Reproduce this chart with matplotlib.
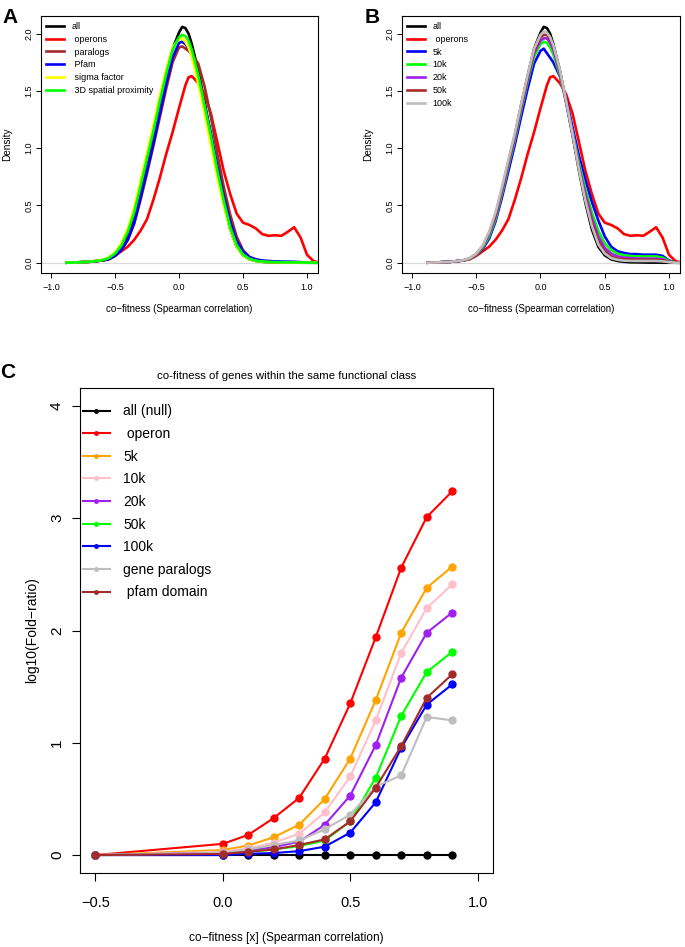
import matplotlib
matplotlib.use("Agg")
import matplotlib.pyplot as plt

plt.rcParams['font.family'] = ['Liberation Sans', 'DejaVu Sans']

# density curves (panels A and B)
xd = [-0.88, -0.8, -0.7, -0.6, -0.55, -0.5, -0.45, -0.4, -0.35, -0.3,
      -0.25, -0.2, -0.15, -0.1, -0.05, 0.0, 0.025, 0.05, 0.075, 0.1,
      0.15, 0.2, 0.25, 0.3, 0.35, 0.4, 0.45, 0.5, 0.55, 0.6,
      0.65, 0.7, 0.75, 0.8, 0.85, 0.9, 0.95, 1.0, 1.05, 1.1]

d_all = [0, 0.003, 0.008, 0.02, 0.035, 0.07, 0.13, 0.24, 0.40, 0.63,
         0.88, 1.11, 1.38, 1.63, 1.87, 2.01, 2.06, 2.05, 2.0, 1.91,
         1.68, 1.40, 1.11, 0.80, 0.52, 0.29, 0.14, 0.065, 0.03, 0.015,
         0.008, 0.004, 0.003, 0.002, 0.001, 0.001, 0, 0, 0, 0]
d_operons = [0, 0.003, 0.008, 0.02, 0.03, 0.06, 0.10, 0.14, 0.20, 0.28,
             0.38, 0.55, 0.74, 0.95, 1.14, 1.35, 1.45, 1.55, 1.62, 1.63,
             1.57, 1.47, 1.30, 1.05, 0.80, 0.60, 0.43, 0.35, 0.33, 0.30,
             0.25, 0.235, 0.24, 0.235, 0.27, 0.31, 0.22, 0.07, 0.015, 0]
d_paralogs = [0, 0.003, 0.008, 0.02, 0.03, 0.06, 0.11, 0.20, 0.34, 0.55,
              0.78, 1.02, 1.27, 1.52, 1.75, 1.88, 1.89, 1.87, 1.85, 1.82,
              1.74, 1.54, 1.27, 0.95, 0.66, 0.42, 0.23, 0.11, 0.05, 0.02,
              0.01, 0.006, 0.004, 0.003, 0.002, 0.002, 0.001, 0, 0, 0]
d_pfam = [0, 0.003, 0.008, 0.02, 0.03, 0.06, 0.11, 0.20, 0.35, 0.57,
          0.80, 1.04, 1.30, 1.56, 1.79, 1.92, 1.93, 1.91, 1.87, 1.81,
          1.62, 1.38, 1.12, 0.84, 0.58, 0.36, 0.19, 0.10, 0.05, 0.03,
          0.02, 0.015, 0.012, 0.01, 0.009, 0.008, 0.005, 0.002, 0, 0]
d_sigma = [0, 0.003, 0.008, 0.025, 0.045, 0.09, 0.17, 0.30, 0.48, 0.72,
           0.96, 1.20, 1.46, 1.69, 1.88, 1.96, 1.96, 1.93, 1.88, 1.80,
           1.57, 1.30, 1.02, 0.74, 0.50, 0.29, 0.14, 0.065, 0.03, 0.015,
           0.008, 0.005, 0.004, 0.003, 0.002, 0.002, 0.001, 0, 0, 0]
d_3d = [0, 0.003, 0.008, 0.022, 0.04, 0.08, 0.15, 0.27, 0.44, 0.67,
        0.91, 1.15, 1.41, 1.65, 1.86, 1.97, 1.99, 1.98, 1.94, 1.86,
        1.64, 1.37, 1.10, 0.80, 0.54, 0.31, 0.155, 0.072, 0.034, 0.017,
        0.01, 0.006, 0.005, 0.004, 0.003, 0.003, 0.002, 0.001, 0, 0]

d_5k = [0, 0.003, 0.008, 0.02, 0.035, 0.07, 0.12, 0.21, 0.36, 0.57,
        0.80, 1.03, 1.28, 1.52, 1.74, 1.85, 1.87, 1.83, 1.79, 1.75,
        1.63, 1.43, 1.18, 0.93, 0.72, 0.53, 0.37, 0.23, 0.14, 0.10,
        0.085, 0.075, 0.075, 0.07, 0.07, 0.07, 0.06, 0.02, 0, 0]
d_10k = [0, 0.003, 0.008, 0.02, 0.035, 0.07, 0.13, 0.23, 0.38, 0.60,
         0.84, 1.07, 1.33, 1.58, 1.80, 1.91, 1.93, 1.92, 1.88, 1.82,
         1.64, 1.40, 1.14, 0.87, 0.64, 0.44, 0.28, 0.17, 0.11, 0.08,
         0.065, 0.058, 0.056, 0.055, 0.055, 0.055, 0.045, 0.015, 0, 0]
d_20k = [0, 0.003, 0.008, 0.02, 0.037, 0.075, 0.14, 0.25, 0.40, 0.62,
         0.86, 1.09, 1.35, 1.60, 1.83, 1.94, 1.96, 1.96, 1.92, 1.86,
         1.66, 1.40, 1.13, 0.84, 0.60, 0.39, 0.23, 0.13, 0.08, 0.055,
         0.045, 0.04, 0.037, 0.036, 0.035, 0.035, 0.03, 0.01, 0, 0]
d_50k = [0, 0.003, 0.008, 0.02, 0.038, 0.078, 0.145, 0.26, 0.42, 0.64,
         0.88, 1.11, 1.37, 1.62, 1.85, 1.97, 1.99, 1.99, 1.95, 1.89,
         1.68, 1.41, 1.12, 0.82, 0.56, 0.35, 0.19, 0.10, 0.055, 0.035,
         0.03, 0.028, 0.026, 0.025, 0.025, 0.025, 0.02, 0.008, 0, 0]
d_100k = [0, 0.003, 0.008, 0.022, 0.04, 0.08, 0.15, 0.27, 0.44, 0.66,
          0.90, 1.13, 1.39, 1.64, 1.87, 1.99, 2.02, 2.01, 1.97, 1.90,
          1.69, 1.41, 1.12, 0.81, 0.54, 0.32, 0.16, 0.08, 0.04, 0.025,
          0.018, 0.016, 0.015, 0.015, 0.015, 0.015, 0.012, 0.005, 0, 0]

# panel C: log10 fold ratio vs co-fitness threshold
xc = [-0.5, 0.0, 0.1, 0.2, 0.3, 0.4, 0.5, 0.6, 0.7, 0.8, 0.9]
fr_null = [0, 0, 0, 0, 0, 0, 0, 0, 0, 0, 0]
fr_operon = [0.0, 0.10, 0.18, 0.33, 0.51, 0.86, 1.35, 1.94, 2.56, 3.01, 3.24]
fr_5k = [0.0, 0.045, 0.085, 0.16, 0.27, 0.50, 0.86, 1.38, 1.98, 2.38, 2.57]
fr_10k = [0.0, 0.03, 0.06, 0.11, 0.19, 0.38, 0.70, 1.20, 1.80, 2.20, 2.41]
fr_20k = [0.0, 0.02, 0.04, 0.07, 0.12, 0.27, 0.53, 0.98, 1.58, 1.98, 2.16]
fr_50k = [0.0, 0.01, 0.03, 0.05, 0.08, 0.13, 0.30, 0.69, 1.24, 1.63, 1.81]
fr_100k = [0.0, 0.0, 0.012, 0.018, 0.035, 0.075, 0.20, 0.47, 0.955, 1.34, 1.52]
fr_paralogs = [0.0, 0.02, 0.05, 0.09, 0.13, 0.23, 0.36, 0.61, 0.71, 1.23, 1.20]
fr_pfam = [0.0, 0.01, 0.03, 0.05, 0.09, 0.14, 0.30, 0.60, 0.97, 1.40, 1.61]

fig = plt.figure(figsize=(6.85, 9.47), dpi=100)


def density_panel(ax, curves):
    ax.axhline(0, color='#d9d9d9', lw=0.8, zorder=0)
    for label, vals, col in curves:
        ax.plot(xd, vals, color=col, lw=1.9, label=label)
    ax.set_xlim(-1.078, 1.086)
    ax.set_ylim(-0.09, 2.155)
    ax.set_xticks([-1.0, -0.5, 0.0, 0.5, 1.0])
    ax.set_xticklabels(['\u22121.0', '\u22120.5', '0.0', '0.5', '1.0'])
    ax.set_yticks([0.0, 0.5, 1.0, 1.5, 2.0])
    ax.set_yticklabels(['0.0', '0.5', '1.0', '1.5', '2.0'], rotation=90, va='center')
    ax.tick_params(direction='out', length=3.5, width=0.7, labelsize=6.5)
    ax.tick_params(axis='x', pad=4)
    ax.tick_params(axis='y', pad=2)
    for s in ax.spines.values():
        s.set_linewidth(0.8)
    ax.set_xlabel('co\u2212fitness (Spearman correlation)', fontsize=7, labelpad=8)
    ax.set_ylabel('Density', fontsize=7.2, labelpad=9)
    ax.legend(loc='upper left', bbox_to_anchor=(0.0, 0.994), frameon=False,
              fontsize=6.5, handlelength=2.0, handletextpad=0.9,
              labelspacing=0.42, borderaxespad=0.3, borderpad=0.2)


axA = fig.add_axes([0.0599, 0.7117, 0.4043, 0.2714])
density_panel(axA, [
    ('all', d_all, 'black'),
    (' operons', d_operons, 'red'),
    (' paralogs', d_paralogs, '#A52A2A'),
    (' Pfam', d_pfam, 'blue'),
    (' sigma factor', d_sigma, '#FFFF00'),
    (' 3D spatial proximity', d_3d, '#00FF00'),
])

axB = fig.add_axes([0.5869, 0.7117, 0.4058, 0.2714])
density_panel(axB, [
    ('all', d_all, 'black'),
    (' operons', d_operons, 'red'),
    ('5k', d_5k, 'blue'),
    ('10k', d_10k, '#00FF00'),
    ('20k', d_20k, '#A020F0'),
    ('50k', d_50k, '#A52A2A'),
    ('100k', d_100k, '#BEBEBE'),
])

axC = fig.add_axes([0.1168, 0.0781, 0.6029, 0.5122])
series_c = [
    ('all (null)', fr_null, 'black'),
    (' operon', fr_operon, 'red'),
    ('5k', fr_5k, '#FFA500'),
    ('10k', fr_10k, '#FFC0CB'),
    ('20k', fr_20k, '#A020F0'),
    ('50k', fr_50k, '#00FF00'),
    ('100k', fr_100k, 'blue'),
    ('gene paralogs', fr_paralogs, '#BEBEBE'),
    (' pfam domain', fr_pfam, '#A52A2A'),
]
for label, vals, col in series_c:
    axC.plot(xc, vals, color=col, lw=1.5, marker='o', markersize=5, label=label)
axC.set_xlim(-0.56, 1.06)
axC.set_ylim(-0.16, 4.16)
axC.set_xticks([-0.5, 0.0, 0.5, 1.0])
axC.set_xticklabels(['\u22120.5', '0.0', '0.5', '1.0'], fontsize=10.5)
axC.set_yticks([0, 1, 2, 3, 4])
axC.set_yticklabels(['0', '1', '2', '3', '4'], rotation=90, va='center', fontsize=11)
axC.tick_params(direction='out', length=5.5, width=0.8)
axC.tick_params(axis='x', pad=11)
axC.tick_params(axis='y', pad=6)
for s in axC.spines.values():
    s.set_linewidth(0.8)
axC.set_title('co-fitness of genes within the same functional class',
              fontsize=8.2, pad=6.5)
axC.set_xlabel('co\u2212fitness [x] (Spearman correlation)', fontsize=8.6, labelpad=16)
axC.set_ylabel('log10(Fold\u2212ratio)', fontsize=10, labelpad=8)
axC.legend(loc='upper left', bbox_to_anchor=(0.007, 0.966), frameon=False,
           fontsize=10, handlelength=1.95, handletextpad=0.95, labelspacing=0.62,
           borderaxespad=0, borderpad=0, markerscale=0.5)

fig.text(0.003, 0.992, 'A', fontsize=15, fontweight='bold', va='top')
fig.text(0.532, 0.992, 'B', fontsize=15, fontweight='bold', va='top')
fig.text(0.0, 0.617, 'C', fontsize=15, fontweight='bold', va='top')

fig.savefig('out.png', dpi=100)
